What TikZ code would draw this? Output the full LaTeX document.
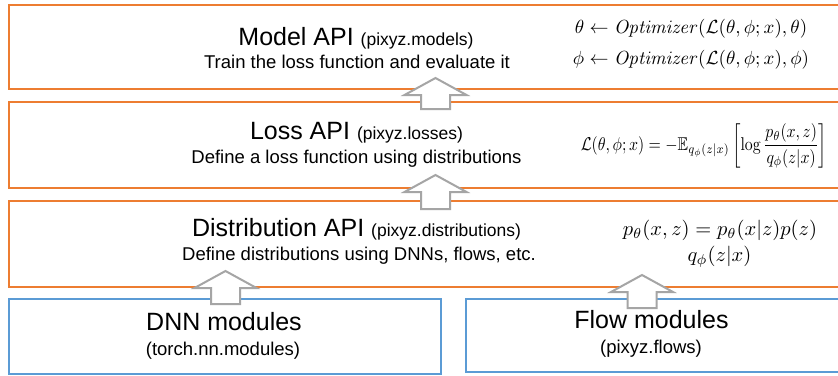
\documentclass[tikz,border=0pt]{standalone}
\usepackage{amsmath,amssymb,graphicx}
\usepackage[no-math]{fontspec}
\setmainfont{Liberation Sans}
\usetikzlibrary{calc}
\definecolor{orng}{HTML}{ED7D31}
\definecolor{blu}{HTML}{5B9BD5}
\definecolor{grayarr}{HTML}{A5A5A5}
\newcommand\blkarrow[2]{%
  \draw[blkarrow] ($(#1)+(-14.5,0)$) -- ($(#2)+(-14.5,17)$) -- ($(#2)+(-31,17)$) -- (#2)
    -- ($(#2)+(31,17)$) -- ($(#2)+(14.5,17)$) -- ($(#1)+(14.5,0)$) -- cycle;}
\newcommand\mymathscale[1]{\scalebox{1.9}{#1}}
\begin{document}
\begin{tikzpicture}[x=1pt,y=-1pt,
  apibox/.style={draw=orng, line width=2pt, rectangle, anchor=north west, inner sep=0pt},
  modbox/.style={draw=blu, line width=2pt, rectangle, anchor=north west, inner sep=0pt},
  blkarrow/.style={draw=grayarr, line width=2pt, fill=white, line join=miter},
  ttl/.style={anchor=base, inner sep=0pt, font=\fontsize{25}{30}\selectfont},
  dsc/.style={anchor=base, inner sep=0pt, font=\fontsize{18.5}{22}\selectfont},
  eq/.style={inner sep=0pt}]
\useasboundingbox (0,0) rectangle (838,375);
\fill[white] (0,0) rectangle (838,375);
% boxes
\node[apibox, minimum width=843pt, minimum height=84pt] (model) at (7.5,3.5) {};
\node[apibox, minimum width=843pt, minimum height=86pt] (loss) at (7.5,101) {};
\node[apibox, minimum width=843pt, minimum height=86pt] (dist) at (7.5,200) {};
\node[modbox, minimum width=432.5pt, minimum height=75pt] (dnn) at (7.5,298) {};
\node[modbox, minimum width=385pt, minimum height=72.5pt] (flow) at (465,298) {};
% arrows
\coordinate (a1b) at (435.5,109); \coordinate (a1t) at (435.5,78);
\coordinate (a2b) at (435.5,209); \coordinate (a2t) at (435.5,175);
\coordinate (a3b) at (225.5,304); \coordinate (a3t) at (225.5,271);
\coordinate (a4b) at (642,308);   \coordinate (a4t) at (642,275);
\blkarrow{a1b}{a1t}
\blkarrow{a2b}{a2t}
\blkarrow{a3b}{a3t}
\blkarrow{a4b}{a4t}
% texts
\node[ttl] (mt) at (356,45) {Model API {\fontsize{17.5}{20}\selectfont (pixyz.models)}};
\node[dsc] (md) at (357,68) {Train the loss function and evaluate it};
\node[ttl] (lt) at (356.5,139) {Loss API {\fontsize{17.5}{20}\selectfont (pixyz.losses)}};
\node[dsc] (ld) at (356.5,163) {Define a loss function using distributions};
\node[ttl] (dt) at (356.5,236) {Distribution API {\fontsize{17.5}{20}\selectfont (pixyz.distributions)}};
\node[dsc] (dd) at (359,260) {Define distributions using DNNs, flows, etc.};
\node[ttl] (nt) at (224,330) {DNN modules};
\node[dsc] (ns) at (223,355) {(torch.nn.modules)};
\node[ttl] (ft) at (651.5,328) {Flow modules};
\node[dsc] (fs) at (651,353) {(pixyz.flows)};
% equations
\node[eq, anchor=base] (e1) at (691,33) {\mymathscale{$\theta \leftarrow \mathit{Optimizer}(\mathcal{L}(\theta,\phi;x),\theta)$}};
\node[eq, anchor=base] (e2) at (691,64) {\mymathscale{$\phi \leftarrow \mathit{Optimizer}(\mathcal{L}(\theta,\phi;x),\phi)$}};
\node[eq, anchor=center] (e3) at (704,146) {\scalebox{1.58}[1.85]{$\displaystyle \mathcal{L}(\theta,\phi;x) = -\mathbb{E}_{q_\phi(z|x)}\left[\log\frac{p_\theta(x,z)}{q_\phi(z|x)}\right]$}};
\node[eq, anchor=base] (e4) at (720,235) {\scalebox{2.05}{$p_\theta(x,z) = p_\theta(x|z)p(z)$}};
\node[eq, anchor=base] (e5) at (719.5,261.5) {\scalebox{2.05}{$q_\phi(z|x)$}};
\end{tikzpicture}
\end{document}
